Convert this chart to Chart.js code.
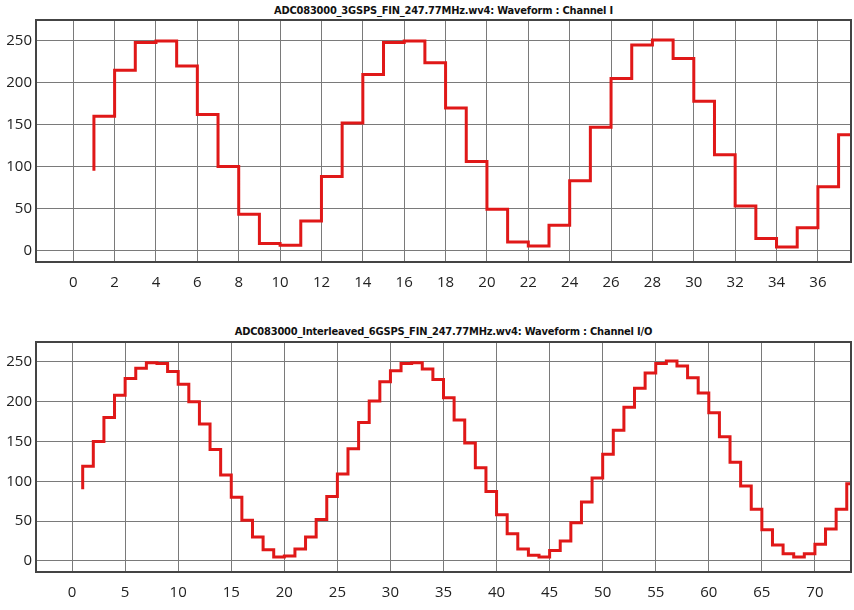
<!DOCTYPE html>
<html><head><meta charset="utf-8">
<script src="https://cdn.jsdelivr.net/npm/chart.js@4"></script>
<style>
body{margin:0;background:#fff;width:854px;height:610px;position:relative;overflow:hidden;font-family:"Liberation Sans Narrow","DejaVu Sans Condensed",Arial,sans-serif}
.t{position:absolute;left:36px;width:815px;text-align:center;font-weight:bold;font-size:11px;color:#111;letter-spacing:-0.2px}
canvas{position:absolute;left:0}
</style></head><body>
<div class="t" style="top:4px">ADC083000_3GSPS_FIN_247.77MHz.wv4: Waveform : Channel I</div>
<div class="t" style="top:325px">ADC083000_Interleaved_6GSPS_FIN_247.77MHz.wv4: Waveform : Channel I/O</div>
<div style="position:absolute;left:0;top:0;width:854px;height:300px"><canvas id="c1"></canvas></div>
<div style="position:absolute;left:0;top:322px;width:854px;height:288px"><canvas id="c2"></canvas></div>
<script>
// Channel I (3 GSPS): value k reached at x = start + k (step rises at previous sample)
const topStart = 1;
const topValues = [95,160,215,248,250,220,162,100,43,8,6,35,88,152,210,248,250,224,170,106,49,10,5,30,83,147,205,245,251,229,178,114,53,14,4,27,76,138];
// Channel I/O (6 GSPS interleaved)
const botStart = 1;
const botValues = [90,119,150,180,208,229,242,249,248,238,222,200,172,140,108,80,51,30,14,5,6,15,30,52,81,109,141,174,201,225,239,248,249,241,228,205,177,148,117,87,58,34,15,7,5,13,25,48,74,104,134,164,193,217,236,248,251,245,230,211,186,156,124,94,65,39,20,9,5,9,21,40,65,97];
const topXTicks = [0,2,4,6,8,10,12,14,16,18,20,22,24,26,28,30,32,34,36];
const botXTicks = [0,5,10,15,20,25,30,35,40,45,50,55,60,65,70];
const yTicks = [0,50,100,150,200,250];

function pts(start, vals, xmax){
  const p = vals.map((v,i)=>({x:start+i, y:v}));
  p.push({x:xmax, y:vals[vals.length-1]});
  return p;
}
function make(id, start, vals, xmin, xmax, xt, padTop){
  new Chart(document.getElementById(id),{
    type:'line',
    data:{datasets:[{data:pts(start,vals,xmax),borderColor:'#e01818',borderWidth:3,pointRadius:0,stepped:'after',fill:false}]},
    options:{responsive:true,maintainAspectRatio:false,animation:false,
      layout:{padding:{top:padTop,right:3,left:0,bottom:0}},
      plugins:{legend:{display:false},tooltip:{enabled:false}},
      scales:{
        x:{type:'linear',min:xmin,max:xmax,
          afterBuildTicks:s=>{s.ticks=xt.map(v=>({value:v}));},
          afterFit:s=>{s.height=38;},
          grid:{color:'#7a7a7a',lineWidth:1,drawTicks:false},
          border:{color:'#444',width:2},
          ticks:{padding:12,color:'#222',font:{family:'"Open Sans",sans-serif',size:15},maxRotation:0,autoSkip:false}},
        y:{type:'linear',min:-14,max:275,
          afterBuildTicks:s=>{s.ticks=yTicks.map(v=>({value:v}));},
          afterFit:s=>{s.width=36;},
          grid:{color:'#7a7a7a',lineWidth:1,drawTicks:false},
          border:{color:'#444',width:2},
          ticks:{padding:4,color:'#222',font:{family:'"Open Sans",sans-serif',size:15}}}
      }
    },
    plugins:[{id:'frame',afterDraw(c){const a=c.chartArea,x=c.ctx;x.save();x.strokeStyle='#444';x.lineWidth=2;x.strokeRect(a.left,a.top,a.right-a.left,a.bottom-a.top);x.restore();}}]
  });
}
make('c1', topStart, topValues, -1.8, 37.6, topXTicks, 20);
make('c2', botStart, botValues, -3.4, 73.4, botXTicks, 20);
</script></body></html>
